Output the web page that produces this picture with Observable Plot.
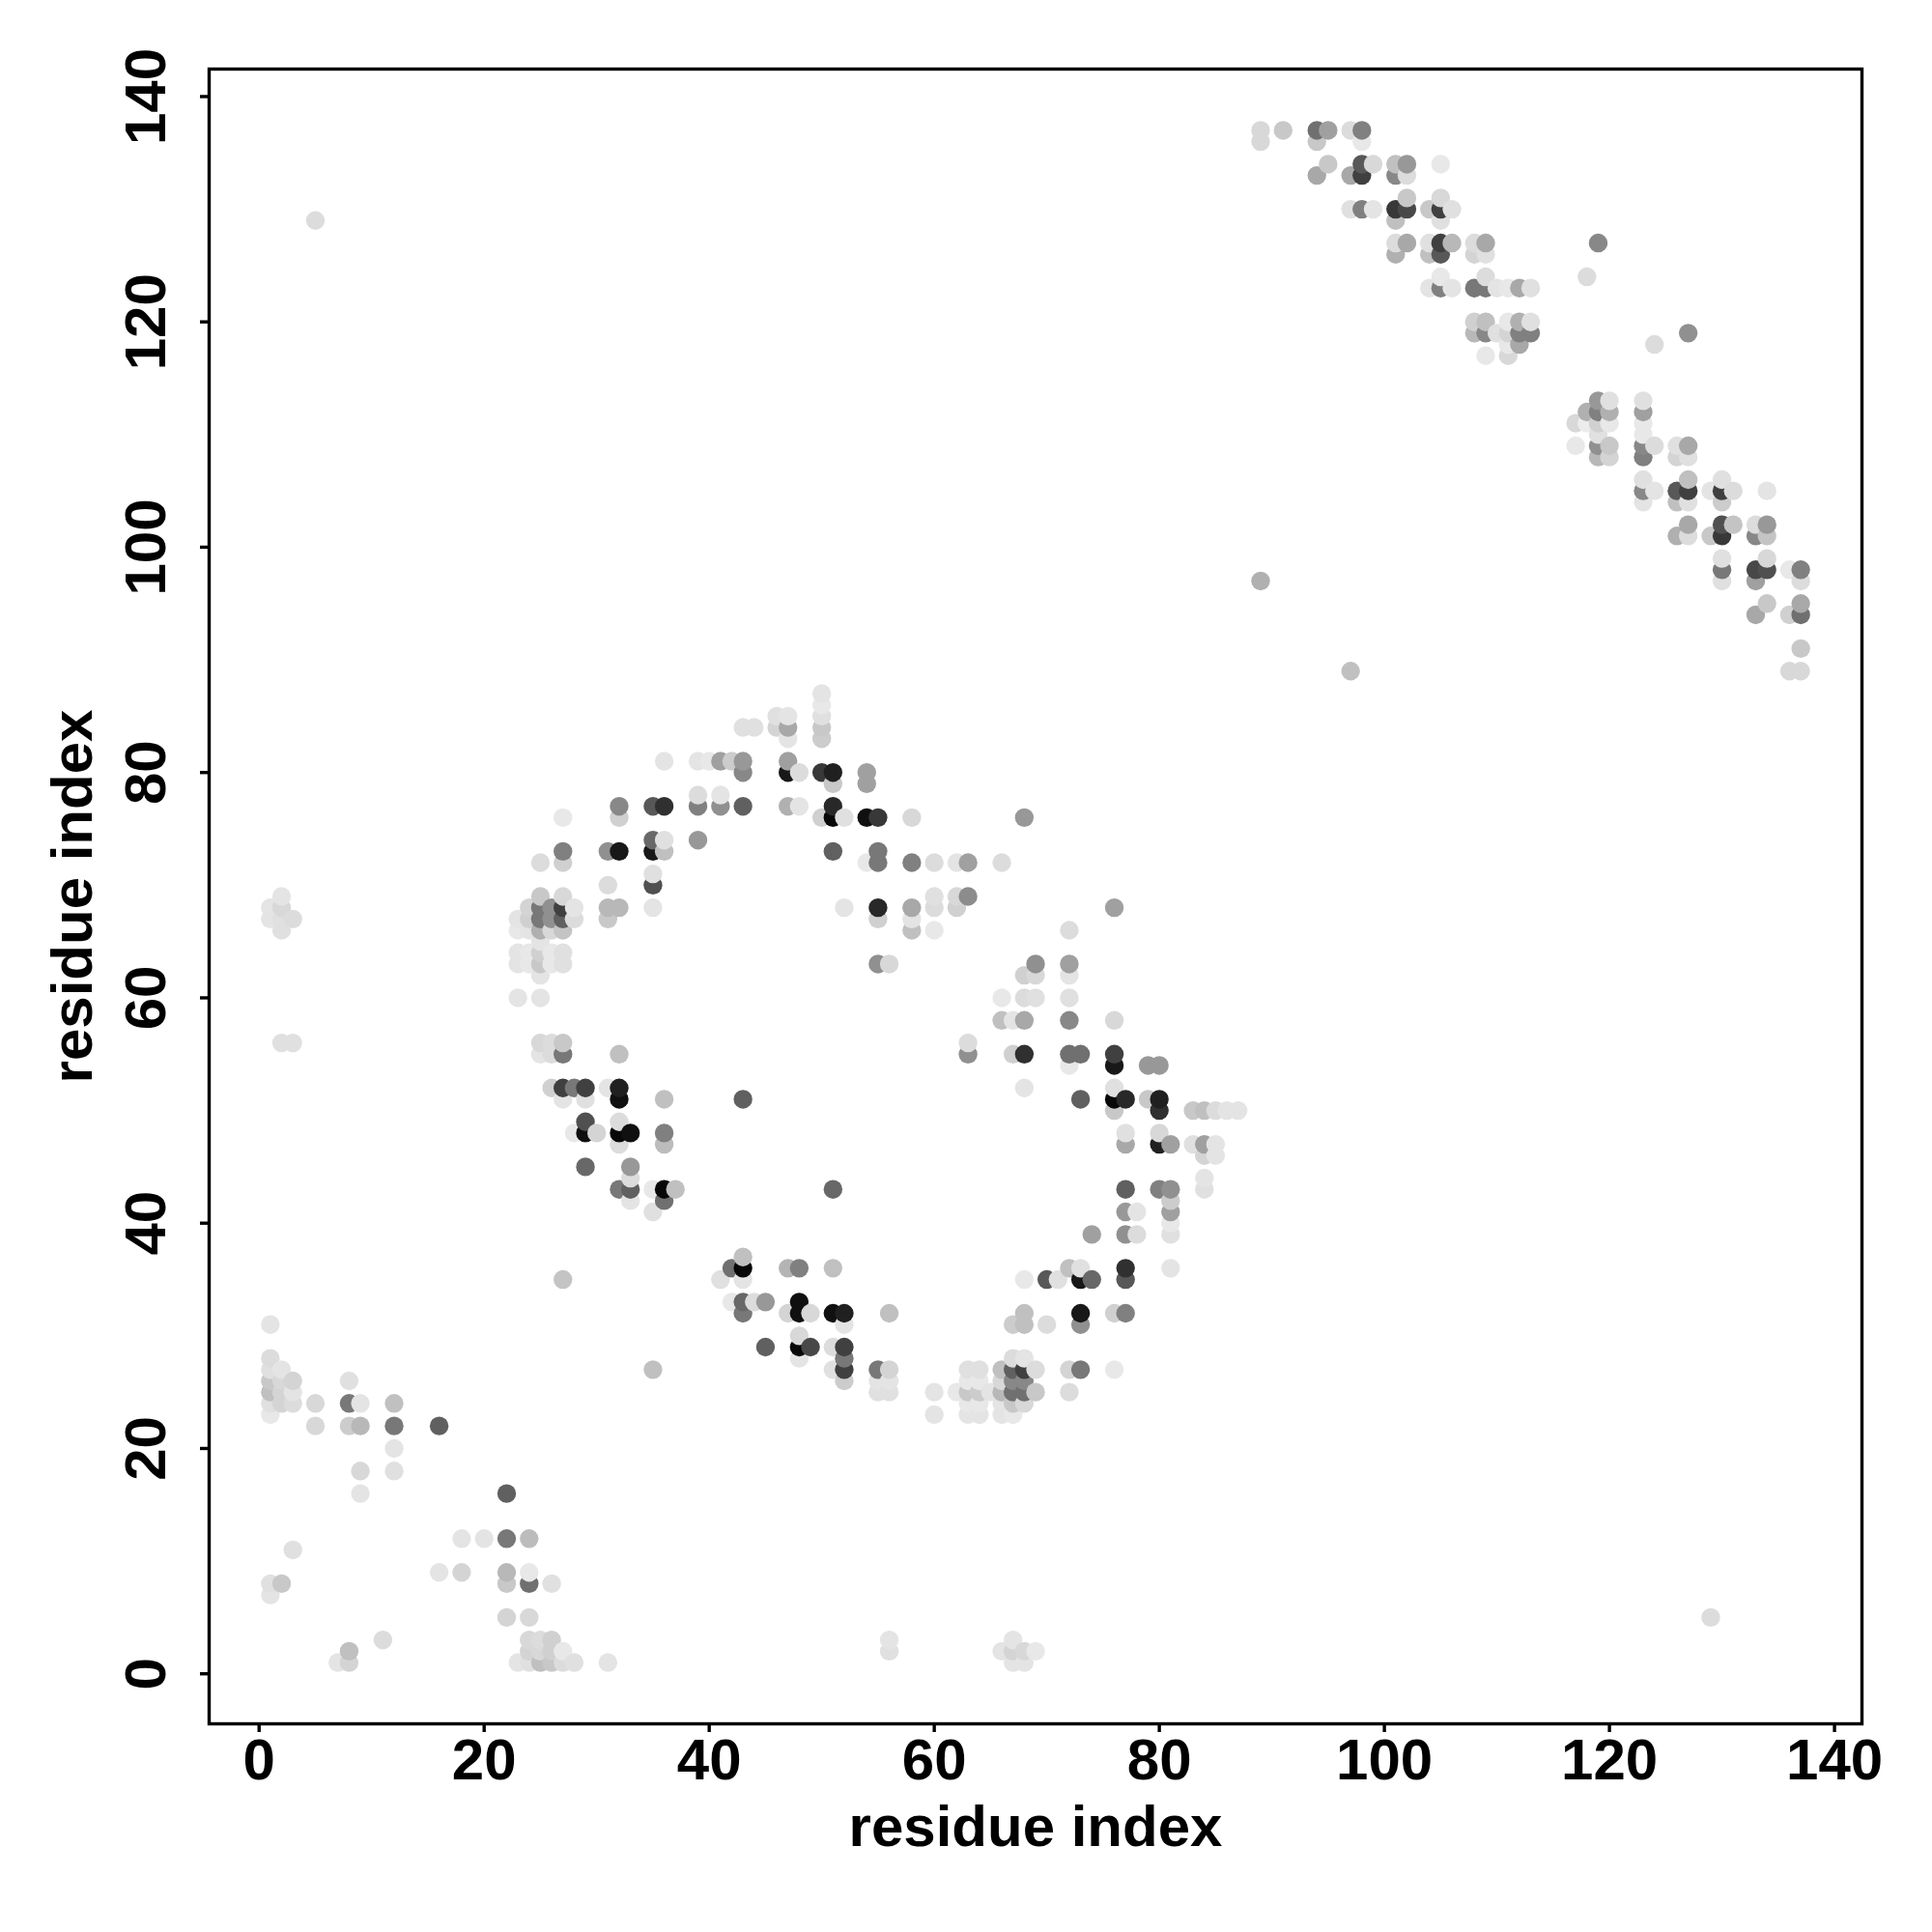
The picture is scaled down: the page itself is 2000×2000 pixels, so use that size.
<!DOCTYPE html>
<html>
<head>
<meta charset="utf-8">
<script src="https://cdn.jsdelivr.net/npm/d3@7"></script>
<script src="https://cdn.jsdelivr.net/npm/@observablehq/plot@0.6"></script>
<style>html,body{margin:0;padding:0;background:#fff}svg{display:block}</style>
</head>
<body>
<div id="chart"></div>
<script>
const tickValues = [0,20,40,60,80,100,120,140];
const axisLabel = "residue index";
const rowY = [137,136,134,133,131,130,129,127,126,124,123,120,119,118,117,113,112,111,110,109,108,106,105,104,102,101,99,98,97,95,94,91,89,87,86,85,84,83,81,80,79,78,77,76,74,73,72,71,70,69,68,67,66,65,64,63,62,60,58,56,55,54,52,51,50,49,48,47,46,45,44,43,42,41,40,39,37,36,35,33,32,31,30,29,28,27,26,25,24,23,22,20,18,16,12,11,9,8,7,5,3,2,1];
const rowX = [
[89,91,94,95,97,98],[89,94,98],[95,98,99,101,102,105],[94,97,98,101,102],[102,105],
[97,98,99,101,102,104,105,106],[5,101,105],[101,102,104,105,106,108,109,119],[101,104,105,108,109],[105,109,118],
[104,105,106,108,109,110,111,112,113],[108,109,111,112,113],[108,109,110,111,112,113,127],[111,112,124],[109,111],
[119,120,123],[118,119,120,123],[117,118,119,120,123],[119,123],[117,119,120,123,124,126,127],
[119,120,123,126,127],[123,127,130],[123,124,126,127,129,130,131,134],[123,126,127,130],[127,130,131,133,134],
[126,127,129,130,133,134],[130,134],[130,133,134,136,137],[89,130,133,137],[134,137],
[133,136,137],[137],[97,136,137],[50],[50],
[46,47,50],[43,44,46,47,50],[47,50],[36,39,40,41,42,43,47],[43,47,48,50,51,54],
[51,54],[39,41],[32,35,36,39,41,43,47,48,51],[27,32,50,51,52,54,55,58,68],[35,36,39],
[27,31,32,35,36,51,55],[25,27,54,55,58,60,62,63,66],[35],[31,35],[2,25,27,60,62,63],
[1,2,24,25,26,27,28,31,32,35,52,55,58,60,62,76],[1,2,3,23,24,25,26,27,28,31,55,58],[2,23,24,25,26,27,58,60,72],[25],[23,24,25,26,27],
[23,24,25,26,27,55,56,69,72],[25,68,69,72],[23,25,66,68,69,72],[66,67,68,72,76],[2,3,25,26,27,63],
[25,26,27,32,63,67,68,72,73,76],[72,76,79,80],[26,27,28,29,31,32,68,76],[27,29,32,36,43,73,76,77,79,80],[76,80,83,84,85,86,87],
[29,32],[28,29,30,32,33,36,77,80],[32,36,77,80,81,83,84,85],[84,85],[29,33],
[33,84],[32,33,35,36,37,51,77,80,81,84],[33,36,81],[35,77,78,81],[81],
[74,77,78,81],[43],[42,43,47,48,51,72,73,77,81],[27,41,43,68,70,71,73,74,77],[42,43,44,45,48],
[43,47,48,49,51,52,56,68,73,76,77],[1,52,67,68,70,73],[48],[45,48,49,51,52],[1,48,52,67,68],
[1,2,35,51,52,55,56,63,64,66,67,68,69,72,73,76],[1,2,3,8,52,55,56,63,64,66,67,68],[1,2,3,55,56,60,62,63,64,65,66,67,68,69,72],[1,2,3,5,8,9,12,63,64,66,67,68],[1,60,63,64,66,67],
[5,8,9,12,16],[12],[9,12],[9,22],[18,20,22,24],
[3],[16,18,22,24],[1,2,22,24,26],[1],[22,24,129],
[11,24,25,26,56,67],[8,24,25,26,27,56,66,67,68,69],[7,8,23,24,25,26,27,28,31,67,68]
];
const rowShade = [
[0xd8,0xc8,0x70,0xa0,0xdc,0x80],[0xd8,0xc8,0xe8],[0xc8,0x58,0xd8,0xc0,0x98,0xe8],[0xa8,0xa8,0x40,0x88,0xdc],[0xc8,0xd8],
[0xe0,0x80,0xe4,0x38,0x48,0xc8,0x40,0xe0],[0xdc,0xc0,0xe0],[0xdc,0xa8,0xe0,0x40,0xb8,0xdc,0xa8,0x88],[0xb0,0xc0,0x58,0xd4,0xe0],[0xe8,0xdc,0xdc],
[0xe4,0x80,0xe4,0x78,0x78,0xe4,0xe8,0xa8,0xe0],[0xd0,0xc0,0xe8,0xb0,0xe0],[0xb8,0x88,0xe0,0xd4,0x80,0x80,0x90],[0xe8,0xa8,0xdc],[0xe8,0xd8],
[0x98,0xe0,0xe0],[0xb0,0x80,0xb0,0xa0],[0xd8,0xec,0xd0,0xe8,0xe8],[0xe0,0xe8],[0xe8,0x90,0xc8,0x88,0xdc,0xe0,0xa8],
[0xb8,0xd4,0x80,0xd4,0xe0],[0xe0,0xc0,0xe0],[0x88,0xe4,0x58,0x40,0xe4,0x40,0xdc,0xe4],[0xe4,0xc0,0xe0,0xcc],[0xa8,0x50,0xc4,0xdc,0x98],
[0xb0,0xdc,0xc8,0x38,0x88,0xc4],[0xe0,0xd8],[0x78,0x48,0x50,0xe8,0x80],[0xb0,0xe0,0xa0,0xdc],[0xc8,0xa8],
[0xa8,0xd0,0x70],[0xc8],[0xc0,0xd8,0xd8],[0xe4],[0xe8],
[0xe0,0xe4,0xe0],[0xe0,0xe0,0xd4,0xa8,0xc8],[0xe4,0xcc],[0xe4,0xe4,0xe8,0xa0,0xcc,0x98,0xa0],[0x88,0x18,0xdc,0x38,0x20,0xa0],
[0xc8,0xa0],[0xdc,0xe4],[0x88,0x58,0x30,0x80,0x90,0x60,0xb0,0xe4,0x28],[0xe8,0xd0,0xd0,0x08,0xe0,0x10,0x38,0xd8,0x98],[0x68,0xe0,0x98],
[0x80,0x90,0x18,0x18,0xc0,0x60,0x78],[0xdc,0xd0,0xe8,0x78,0x80,0xdc,0xe4,0xa0,0xdc],[0xe0],[0xdc,0x50],[0xe4,0xc8,0xd8,0xe0,0xd8,0x8c],
[0xe4,0xd8,0xd4,0x78,0x90,0x40,0xe4,0xb8,0xb8,0xe4,0xe4,0x28,0xa8,0xdc,0xd0,0xa0],[0xe4,0xe0,0xdc,0xe4,0xd0,0x78,0x90,0x60,0xdc,0xc8,0xd0,0xe4],[0xe0,0xe8,0xe4,0xb0,0xd8,0xc4,0xc0,0xe8,0xdc],[0xe4],[0xe4,0xe8,0xd0,0xe8,0xe0],
[0xe4,0xe8,0xc8,0xe8,0xe0,0x90,0xd8,0x90,0xa0],[0xe4,0xd0,0xd8,0xe4],[0xe4,0xe4,0xe8,0xdc,0xe0,0xe0],[0xc0,0xe4,0xa8,0x88,0xd8],[0xe0,0xe0,0xd8,0xdc,0xc8,0xdc],
[0xe4,0xdc,0x78,0xc0,0x90,0xd0,0x30,0x70,0x70,0x40],[0xe8,0x18,0x98,0x98],[0xd0,0x40,0x78,0x40,0xe4,0x20,0xe4,0xe0],[0xe4,0xe0,0x10,0xc0,0x60,0x60,0x08,0x28,0xc8,0x20],[0xc8,0x30,0xc8,0xc0,0xdc,0xe4,0xe4],
[0x50,0xdc],[0xe8,0x10,0xd4,0x08,0x10,0x80,0xe0,0xd8],[0xdc,0xbc,0xa8,0x20,0xa0,0xe0,0xa0,0xe4],[0xd4,0xe4],[0x68,0x98],
[0xdc,0xe4],[0x78,0x60,0xe8,0x08,0xc0,0x68,0x60,0x80,0x90,0xe0],[0xe4,0x70,0xcc],[0xe0,0x98,0xe4,0xa0],[0xe8],
[0xa0,0x90,0xdc,0xe0],[0xc0],[0x70,0x08,0xb4,0x80,0xc0,0xc0,0xe0,0x30,0xe4],[0xc4,0xe0,0xe4,0xe8,0x58,0xe0,0x18,0x68,0x58],[0xe8,0x68,0xdc,0x98,0x10],
[0x78,0xd4,0x10,0xd8,0x10,0x20,0xc0,0xc0,0x18,0xd0,0x80],[0xe4,0xe4,0xcc,0xc0,0xdc,0x90],[0xd8],[0x60,0x08,0x48,0xdc,0x40],[0xdc,0xe4,0x78,0xdc,0xe4],
[0xe0,0xe4,0xc0,0xe0,0x40,0x78,0xd4,0xe0,0xe0,0xc0,0x60,0x40,0xdc,0xd4,0x78,0xe8],[0xc8,0xd8,0xd4,0xe0,0xcc,0xe4,0xe4,0xe8,0xe8,0xd8,0x88,0x88],[0xc0,0xd4,0xe4,0xe0,0xe0,0xe4,0xe8,0xc8,0xcc,0xe4,0xb8,0x70,0x70,0xc8,0xdc],[0xe0,0xd4,0xdc,0xd8,0x78,0xe4,0xc0,0xe8,0xe8,0xe4,0xc8,0xd8],[0xe8,0xe4,0xe4,0xe4,0xe4,0xe8],
[0xd8,0xcc,0xb8,0x78,0x60],[0xe4],[0xd8,0xe0],[0xe4,0x60],[0xe4,0xe4,0x78,0xbc],
[0xe0],[0xe4,0xd4,0xb8,0xe8],[0xe0,0xc8,0xc8,0x70,0xe0],[0xe4],[0xd4,0xd8,0xdc],
[0xdc,0xd8,0xdc,0xd0,0xe4,0xe4],[0xc0,0xd4,0xd8,0xd0,0xe8,0xe0,0xe4,0xd4,0xd8,0xe8],[0xe4,0xd4,0xe4,0xe0,0xc0,0xc8,0xdc,0xe0,0xe4,0xe4,0xe4]
];
const contacts = [];
rowY.forEach((y, i) => rowX[i].forEach((x, j) => contacts.push({x, y, shade: rowShade[i][j]})));
contacts.sort((a, b) => a.x - b.x || a.y - b.y);

const font = {fontFamily: "'Liberation Sans', Arial, sans-serif", fontWeight: 700};
const chart = Plot.plot({
  width: 2000, height: 2000,
  marginLeft: 216, marginRight: 73, marginTop: 71, marginBottom: 216,
  x: {domain: [-4.44, 142.44]},
  y: {domain: [-4.44, 142.44]},
  color: {type: "linear", domain: [0, 255], range: ["#000", "#fff"]},
  style: {background: "#fff", color: "#000", fontFamily: font.fontFamily, fontWeight: 700, fontSize: "60px", overflow: "visible"},
  marks: [
    Plot.dot(contacts, {x: "x", y: "y", r: 9.7, fill: "shade", stroke: "none"}),
    Plot.frame({stroke: "#000", strokeWidth: 3.4}),
    Plot.axisX({anchor: "bottom", ticks: tickValues, tickSize: 9, tickPadding: 6, strokeWidth: 3.4, fontSize: 60, fontWeight: 700,
      label: axisLabel, labelAnchor: "center", labelArrow: "none", labelOffset: 126, tickFormat: d => d}),
    Plot.axisY({anchor: "left", ticks: tickValues, tickSize: 9, tickPadding: 37, tickRotate: -90, strokeWidth: 3.4, fontSize: 60, fontWeight: 700,
      label: axisLabel, labelAnchor: "center", labelArrow: "none", labelOffset: 164, tickFormat: d => d})
  ]
});
document.getElementById("chart").append(chart);
</script>
</body>
</html>
